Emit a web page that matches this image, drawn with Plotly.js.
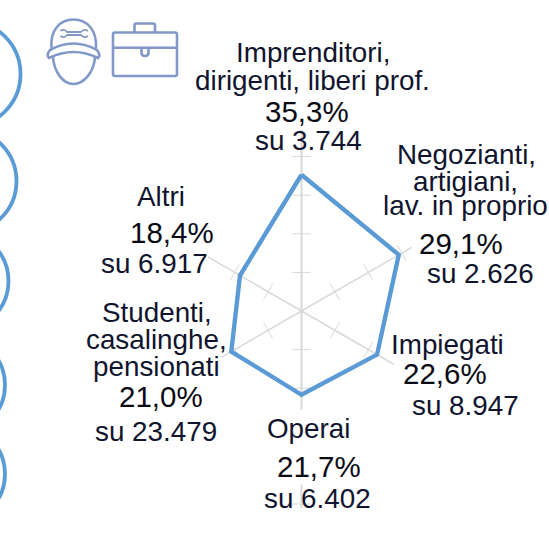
<!DOCTYPE html>
<html><head><meta charset="utf-8">
<script src="https://cdn.plot.ly/plotly-3.0.1.min.js"></script>
<style>html,body{margin:0;padding:0;background:#fff}#c{width:549px;height:552px}</style>
</head><body><div id="c"></div>
<script>
const categories = ["Imprenditori, dirigenti, liberi prof.","Negozianti, artigiani, lav. in proprio","Impiegati","Operai","Studenti, casalinghe, pensionati","Altri"];
const angles = [0,60,120,180,240,300];
const values = [35.3,29.1,22.6,21.7,21.0,18.4];
const spokeSegments = [[[0,47]],[[0,33]],[[0,27.6]],[[0,25.6],[45,51]],[[0,24]],[[0,28]]];
const spokeTicks = [[10,20,30,40],[10,20,30],[10,20],[10,20,50],[10,20],[10,20]];
const labelText = ["Imprenditori,","dirigenti, liberi prof.","35,3%","su 3.744","Negozianti,","artigiani,","lav. in proprio","29,1%","su 2.626","Impiegati","22,6%","su 8.947","Operai","21,7%","su 6.402","Studenti,","casalinghe,","pensionati","21,0%","su 23.479","Altri","18,4%","su 6.917"];
const labelX = [313,312.5,307,308.5,466,465,465,460.5,480,447,444.5,465.5,308,318.5,317.5,157,156.5,156.5,161,156,161,172,154];
const labelY = [52,80,111,140,154,181,205,243,273,344,373,405,428,466,498,312,339,366,396,431,196,232,263];
const circles = [[-32.5,74,53],[-35.5,181,52],[-41.5,281,50],[-45,385,50],[-45,474,50]];
const iconPaths = [
 "M51.5,48 C50,30 60,19.5 73.5,19.5 C87,19.5 97,30 96,48",
 "M49,58 Q46,55 50,50 Q73.5,37 97,50 Q101,55 98,58 Q73.5,46 49,58 Z",
 "M53,57 C54,72 63,84 73.5,84 C84,84 94,72 95,57",
 "M60.5,31 Q64,28.5 66.5,31.5 L67,32 H81 L81.5,31.5 Q84,28.5 88,31",
 "M60.5,36 Q64,38.5 66.5,35.5 L67,35 H81 L81.5,35.5 Q84,38.5 88,36",
 "M115,32.5 H175 Q177,32.5 177,34.5 V74 Q177,76 175,76 H115 Q113,76 113,74 V34.5 Q113,32.5 115,32.5 Z",
 "M113,47.7 H177",
 "M134.5,32.5 V25.5 Q134.5,23.5 136.5,23.5 H153 Q155,23.5 155,25.5 V32.5",
 "M141.5,47.7 V52.5 Q141.5,56 145,56 Q148.5,56 148.5,52.5 V47.7"
];
const cx=301.5, cy=311, R=200, pxPerUnit=3.86;
const polar={
  domain:{x:[(cx-R)/549,(cx+R)/549],y:[(552-cy-R)/552,(552-cy+R)/552]},
  bgcolor:'rgba(0,0,0,0)',
  radialaxis:{visible:false,range:[0,R/pxPerUnit]},
  angularaxis:{visible:false,direction:'clockwise',rotation:90,thetaunit:'degrees'}
};
const traces=[];
angles.forEach((t,i)=>{
  const r=[],th=[];
  spokeSegments[i].forEach(s=>{r.push(s[0],s[1],null);th.push(t,t,null);});
  traces.push({type:'scatterpolar',mode:'lines',r:r,theta:th,line:{color:'#d9d9d9',width:i%3===0?2:1.5},hoverinfo:'skip',showlegend:false});
  traces.push({type:'scatterpolar',mode:'markers',r:spokeTicks[i],theta:spokeTicks[i].map(()=>t),
    marker:{symbol:'line-ew',size:13,angle:t,color:'#d9d9d9',line:{color:'#d9d9d9',width:1}},hoverinfo:'skip',showlegend:false});
});
traces.push({type:'scatterpolar',mode:'lines',r:values.concat(values[0]),theta:angles.concat(angles[0]),
  text:categories.concat(categories[0]),line:{color:'#5b9bd5',width:4.4},showlegend:false});
const shapes=[];
circles.forEach(c=>shapes.push({type:'circle',xref:'x',yref:'y',x0:c[0]-c[2],x1:c[0]+c[2],y0:c[1]-c[2],y1:c[1]+c[2],line:{color:'#5b9bd5',width:3.8}}));
iconPaths.forEach((p,i)=>shapes.push({type:'path',xref:'x',yref:'y',path:p,line:{color:'#8298c8',width:(i===3||i===4)?1.8:2.6}}));
const annotations=labelText.map((s,i)=>{const pct=s.indexOf('%')>=0;return {xref:'x',yref:'y',x:labelX[i],y:labelY[i],text:s,showarrow:false,xanchor:'center',yanchor:'middle',
  font:{family:'"Liberation Sans",Arial,sans-serif',size:pct?29.5:27.8,color:pct?'#0a0a14':'#10142e'}};});
Plotly.newPlot('c',traces,{
  width:549,height:552,margin:{l:0,r:0,t:0,b:0},paper_bgcolor:'#fff',plot_bgcolor:'rgba(0,0,0,0)',
  polar:polar,
  xaxis:{visible:false,range:[0,549],domain:[0,1],fixedrange:true},
  yaxis:{visible:false,range:[552,0],domain:[0,1],fixedrange:true},
  shapes:shapes,annotations:annotations,showlegend:false
},{displayModeBar:false,staticPlot:true});
</script></body></html>
